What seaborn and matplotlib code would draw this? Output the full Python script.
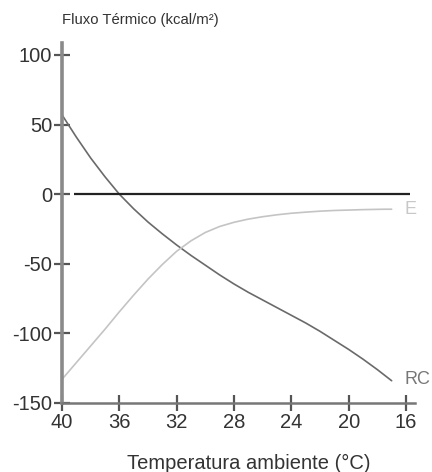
import numpy as np
import pandas as pd
import matplotlib
matplotlib.use("Agg")
import matplotlib.pyplot as plt
import seaborn as sns

# readings
temp = [40, 39, 38, 37, 36, 35, 34, 33, 32, 31, 30, 29, 28, 27, 26, 25, 24, 23, 22,
        21, 20, 19, 18, 17.5, 17.0]
rc = [57, 41, 26, 12.5, 0, -10.5, -20, -28.5, -36.5, -44, -51, -58, -64.5, -70.5, -76,
      -81.5, -87, -92.5, -98.5, -105, -111.5, -118.5, -126, -130, -134]
e = [-133, -121, -109, -97, -84.5, -72.5, -61, -50.5, -41, -33.5, -27.5, -23.2, -20.2,
     -17.9, -16.2, -14.8, -13.7, -12.9, -12.2, -11.7, -11.4, -11.1, -10.9, -10.8, -10.8]
xticks = [40, 36, 32, 28, 24, 20, 16]
yticks = [-150, -100, -50, 0, 50, 100]

df = pd.DataFrame({"T": temp * 2,
                   "F": rc + e,
                   "s": ["RC"] * len(temp) + ["E"] * len(temp)})

sns.set_style("white")
plt.rcParams["font.family"] = ["Liberation Sans", "DejaVu Sans"]
plt.rcParams["axes.unicode_minus"] = False

fig = plt.figure(figsize=(4.32, 4.72), dpi=100)
ax = fig.add_axes([62 / 432, 69 / 472, (415 - 62) / 432, (429 - 69) / 472])

sns.lineplot(data=df, x="T", y="F", hue="s", palette={"RC": "#6a6a6a", "E": "#c4c4c4"},
             linewidth=1.2, legend=False, ax=ax, sort=False)

# zero reference line
ax.hlines(0, 39.16, 15.72, color="#222222", linewidth=1.6)

ax.set_xlim(40, 15.37)
ax.set_ylim(-150, 108.6)
ax.set_xticks(xticks)
ax.set_yticks(yticks)
ax.set_xlabel("")
ax.set_ylabel("")

for s in ["top", "right"]:
    ax.spines[s].set_visible(False)
ax.spines["left"].set_color("#8a8a8a")
ax.spines["left"].set_linewidth(2.6)
ax.spines["bottom"].set_color("#777777")
ax.spines["bottom"].set_linewidth(1.8)
ax.tick_params(bottom=True, left=True, direction="inout", length=12, width=1.6,
               color="#555555", labelsize=14.5, labelcolor="#333333", pad=1)

ax.text(16.07, -11, "E", color="#c8c8c8", fontsize=13, va="center", clip_on=False)
ax.text(16.07, -133, "RC", color="#777777", fontsize=13, va="center", clip_on=False)

fig.text(62 / 432, 1 - 20 / 472, "Fluxo Térmico (kcal/m²)", fontsize=10.7,
         color="#333333", ha="left", va="center")
fig.text(249 / 432, 1 - 463 / 472, "Temperatura ambiente (°C)", fontsize=14.5,
         color="#333333", ha="center", va="center")

fig.savefig("out.png", dpi=100)
